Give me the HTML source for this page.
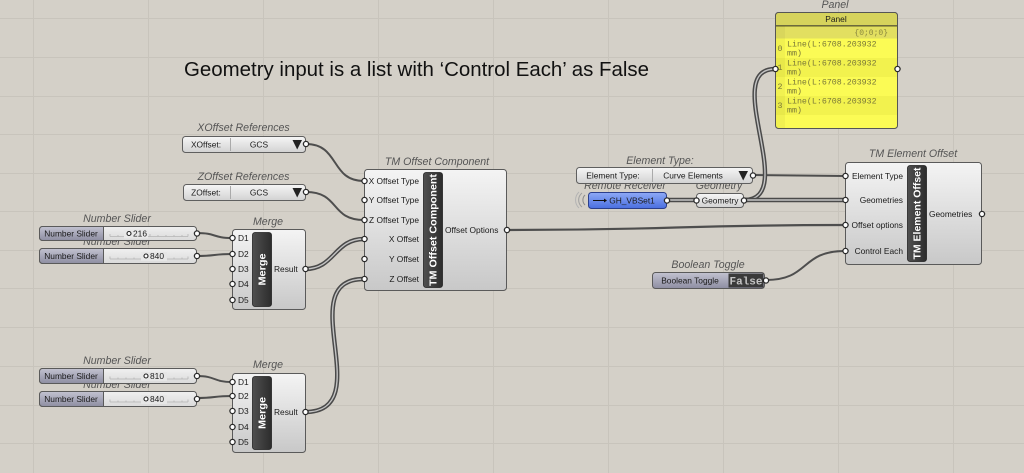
<!DOCTYPE html>
<html>
<head>
<meta charset="utf-8">
<style>
html,body{margin:0;padding:0;background:#d4d0c8;}
svg{display:block;}
text{font-family:"Liberation Sans",sans-serif;}
.lbl{font-style:italic;font-size:10.6px;fill:#555;text-anchor:middle;}
.t{font-size:8.4px;fill:#1a1a1a;}
.tm{text-anchor:middle;}
.te{text-anchor:end;}
.strip{font-weight:bold;font-size:10.5px;fill:#fff;text-anchor:middle;}
.mono,.mono text{font-family:"Liberation Mono",monospace;}
.w1{fill:none;stroke:#4e4e4e;stroke-width:2;}
.w2o{fill:none;stroke:#4a4a4a;stroke-width:4.4;}
.w2i{fill:none;stroke:#c4c4c4;stroke-width:1.4;}
.port{fill:#fff;stroke:#2a2a2a;stroke-width:1.3;}
.box{fill:url(#gBox);stroke:#5a5a5a;stroke-width:1;}
.vl{fill:url(#gList);stroke:#5f5f5f;stroke-width:1;}
.stp{fill:url(#gStrip);stroke:#222;stroke-width:0.8;}
.grid{stroke:#c8c4bc;stroke-width:1;}
</style>
</head>
<body>
<svg width="1024" height="473" viewBox="0 0 1024 473" xmlns="http://www.w3.org/2000/svg">
<defs>
<linearGradient id="gBox" x1="0" y1="0" x2="0" y2="1">
<stop offset="0" stop-color="#f4f4f4"/><stop offset="1" stop-color="#c8c8c8"/>
</linearGradient>
<linearGradient id="gList" x1="0" y1="0" x2="0" y2="1">
<stop offset="0" stop-color="#f6f6f6"/><stop offset="1" stop-color="#d2d2d2"/>
</linearGradient>
<linearGradient id="gStrip" x1="0" y1="0" x2="1" y2="0">
<stop offset="0" stop-color="#505050"/><stop offset="1" stop-color="#2c2c2c"/>
</linearGradient>
<linearGradient id="gSl" x1="0" y1="0" x2="0" y2="1">
<stop offset="0" stop-color="#c2c2d0"/><stop offset="1" stop-color="#8e8ea2"/>
</linearGradient>
<linearGradient id="gTrack" x1="0" y1="0" x2="0" y2="1">
<stop offset="0" stop-color="#f0f0f0"/><stop offset="1" stop-color="#dadada"/>
</linearGradient>
<linearGradient id="gBlue" x1="0" y1="0" x2="0" y2="1">
<stop offset="0" stop-color="#8eaaf6"/><stop offset="1" stop-color="#4a6ee0"/>
</linearGradient>
</defs>

<!-- grid -->
<g class="grid">
<line x1="33.5" y1="0" x2="33.5" y2="473"/>
<line x1="148.5" y1="0" x2="148.5" y2="473"/>
<line x1="263.5" y1="0" x2="263.5" y2="473"/>
<line x1="378.5" y1="0" x2="378.5" y2="473"/>
<line x1="493.5" y1="0" x2="493.5" y2="473"/>
<line x1="608.5" y1="0" x2="608.5" y2="473"/>
<line x1="723.5" y1="0" x2="723.5" y2="473"/>
<line x1="838.5" y1="0" x2="838.5" y2="473"/>
<line x1="953.5" y1="0" x2="953.5" y2="473"/>
<line x1="0" y1="18.5" x2="1024" y2="18.5"/>
<line x1="0" y1="57.5" x2="1024" y2="57.5"/>
<line x1="0" y1="96.5" x2="1024" y2="96.5"/>
<line x1="0" y1="134.5" x2="1024" y2="134.5"/>
<line x1="0" y1="173.5" x2="1024" y2="173.5"/>
<line x1="0" y1="211.5" x2="1024" y2="211.5"/>
<line x1="0" y1="250.5" x2="1024" y2="250.5"/>
<line x1="0" y1="288.5" x2="1024" y2="288.5"/>
<line x1="0" y1="327.5" x2="1024" y2="327.5"/>
<line x1="0" y1="366.5" x2="1024" y2="366.5"/>
<line x1="0" y1="405.5" x2="1024" y2="405.5"/>
<line x1="0" y1="443.5" x2="1024" y2="443.5"/>
</g>

<!-- title -->
<text x="184" y="76" font-size="20.4" fill="#111" textLength="465" lengthAdjust="spacingAndGlyphs">Geometry input is a list with ‘Control Each’ as False</text>

<!-- single wires -->
<path class="w1" d="M306,144 C340,144 330,181 364,181"/>
<path class="w1" d="M306,192 C340,192 330,220 364,220"/>
<path class="w1" d="M197,233 C216,233 213,238 232,238"/>
<path class="w1" d="M197,256 C216,256 213,254 232,254"/>
<path class="w1" d="M197,376 C216,376 213,382 232,382"/>
<path class="w1" d="M197,398 C216,398 213,396 232,396"/>
<path class="w1" d="M507,230 C676,230 676,225 845,225" style="stroke-width:2.2"/>
<path class="w1" d="M753,175 L845,176"/>
<path class="w1" d="M766,280 C810,280 800,251 845,251"/>

<!-- double (list) wires -->
<path class="w2o" d="M305,269 C335,269 334,239 364,239"/>
<path class="w2i" d="M305,269 C335,269 334,239 364,239"/>
<path class="w2o" d="M305,412 C380,412 290,279 364,279"/>
<path class="w2i" d="M305,412 C380,412 290,279 364,279"/>
<path class="w2o" d="M667,200 L696,200"/>
<path class="w2i" d="M667,200 L696,200"/>
<path class="w2o" d="M744,200 C800,200 720,69 775,69"/>
<path class="w2i" d="M744,200 C800,200 720,69 775,69"/>
<path class="w2o" d="M744,200 L845,200"/>
<path class="w2i" d="M744,200 L845,200"/>

<!-- labels (drawn under boxes) -->
<text class="lbl" x="243.5" y="131">XOffset References</text>
<text class="lbl" x="243.5" y="180">ZOffset References</text>
<text class="lbl" x="437" y="165">TM Offset Component</text>
<text class="lbl" x="117" y="222">Number Slider</text>
<text class="lbl" x="117" y="245">Number Slider</text>
<text class="lbl" x="268" y="225">Merge</text>
<text class="lbl" x="117" y="364">Number Slider</text>
<text class="lbl" x="117" y="388">Number Slider</text>
<text class="lbl" x="268" y="368">Merge</text>
<text class="lbl" x="835" y="8">Panel</text>
<text class="lbl" x="660" y="164">Element Type:</text>
<text class="lbl" x="625" y="189">Remote Receiver</text>
<text class="lbl" x="719" y="189">Geometry</text>
<text class="lbl" x="913" y="157">TM Element Offset</text>
<text class="lbl" x="708" y="268">Boolean Toggle</text>

<!-- XOffset value list -->
<rect class="vl" x="182.5" y="136.5" width="123" height="16" rx="3"/>
<line x1="230.5" y1="138" x2="230.5" y2="151" stroke="#aaa"/>
<text class="t tm" x="206" y="147.5">XOffset:</text>
<text class="t tm" x="259" y="147.5">GCS</text>
<polygon points="292.5,140 302,140 297.2,149.5" fill="#222"/>

<!-- ZOffset value list -->
<rect class="vl" x="183.5" y="184.5" width="122" height="16" rx="3"/>
<line x1="230.5" y1="186" x2="230.5" y2="199" stroke="#aaa"/>
<text class="t tm" x="206" y="195.5">ZOffset:</text>
<text class="t tm" x="259" y="195.5">GCS</text>
<polygon points="292.5,188 302,188 297.2,197.5" fill="#222"/>

<!-- TM Offset Component -->
<rect class="box" x="364.5" y="169.5" width="142" height="121" rx="3"/>
<rect class="stp" x="423.5" y="172.5" width="19" height="115" rx="2.5"/>
<text class="strip" transform="translate(436.5,230) rotate(-90)" textLength="112" lengthAdjust="spacingAndGlyphs">TM Offset Component</text>
<text class="t te" x="419" y="184">X Offset Type</text>
<text class="t te" x="419" y="203">Y Offset Type</text>
<text class="t te" x="419" y="223">Z Offset Type</text>
<text class="t te" x="419" y="242">X Offset</text>
<text class="t te" x="419" y="262">Y Offset</text>
<text class="t te" x="419" y="282">Z Offset</text>
<text class="t" x="445" y="233">Offset Options</text>

<!-- Sliders group 1 -->
<g>
<rect x="39.5" y="226.5" width="157" height="14" rx="3" fill="url(#gTrack)" stroke="#5a5a5a"/>
<path d="M42.5,226.5 H103.5 V240.5 H42.5 A3,3 0 0 1 39.5,237.5 V229.5 A3,3 0 0 1 42.5,226.5 Z" fill="url(#gSl)" stroke="#5a5a5a"/>
<text class="t tm" x="71" y="236.5">Number Slider</text>
<path d="M110,236.5 H188 M110,234 V236.5 M118,235 V236.5 M126,235 V236.5 M134,235 V236.5 M142,235 V236.5 M150,234 V236.5 M158,235 V236.5 M166,235 V236.5 M174,235 V236.5 M182,235 V236.5 M188,234 V236.5" stroke="#b4b4b4" stroke-width="0.8" fill="none"/>
<rect x="124" y="229.5" width="24" height="9" fill="#e8e8e8"/>
<circle cx="129" cy="233.5" r="2" fill="#fff" stroke="#222" stroke-width="1.1"/>
<text class="t" x="133" y="236.5">216</text>
</g>
<g>
<rect x="39.5" y="248.5" width="157" height="15" rx="3" fill="url(#gTrack)" stroke="#5a5a5a"/>
<path d="M42.5,248.5 H103.5 V263.5 H42.5 A3,3 0 0 1 39.5,260.5 V251.5 A3,3 0 0 1 42.5,248.5 Z" fill="url(#gSl)" stroke="#5a5a5a"/>
<text class="t tm" x="71" y="259">Number Slider</text>
<path d="M110,259 H188 M110,256.5 V259 M118,257.5 V259 M126,257.5 V259 M134,257.5 V259 M142,257.5 V259 M150,256.5 V259 M158,257.5 V259 M166,257.5 V259 M174,257.5 V259 M182,257.5 V259 M188,256.5 V259" stroke="#b4b4b4" stroke-width="0.8" fill="none"/>
<rect x="141" y="252" width="26" height="9" fill="#e6e6e6"/>
<circle cx="146" cy="256" r="2" fill="#fff" stroke="#222" stroke-width="1.1"/>
<text class="t" x="150" y="259">840</text>
</g>

<!-- Merge 1 -->
<rect class="box" x="232.5" y="229.5" width="73" height="80" rx="3"/>
<rect class="stp" x="252.5" y="232.5" width="19" height="74" rx="2.5"/>
<text class="strip" transform="translate(265.5,269.5) rotate(-90)" textLength="32" lengthAdjust="spacingAndGlyphs">Merge</text>
<text class="t" x="238" y="241">D1</text>
<text class="t" x="238" y="257">D2</text>
<text class="t" x="238" y="272">D3</text>
<text class="t" x="238" y="287">D4</text>
<text class="t" x="238" y="303">D5</text>
<text class="t" x="274" y="272">Result</text>

<!-- Sliders group 2 -->
<g>
<rect x="39.5" y="368.5" width="157" height="15" rx="3" fill="url(#gTrack)" stroke="#5a5a5a"/>
<path d="M42.5,368.5 H103.5 V383.5 H42.5 A3,3 0 0 1 39.5,380.5 V371.5 A3,3 0 0 1 42.5,368.5 Z" fill="url(#gSl)" stroke="#5a5a5a"/>
<text class="t tm" x="71" y="379">Number Slider</text>
<path d="M110,379 H188 M110,376.5 V379 M118,377.5 V379 M126,377.5 V379 M134,377.5 V379 M142,377.5 V379 M150,376.5 V379 M158,377.5 V379 M166,377.5 V379 M174,377.5 V379 M182,377.5 V379 M188,376.5 V379" stroke="#b4b4b4" stroke-width="0.8" fill="none"/>
<rect x="141" y="372" width="26" height="9" fill="#e6e6e6"/>
<circle cx="146" cy="376" r="2" fill="#fff" stroke="#222" stroke-width="1.1"/>
<text class="t" x="150" y="379">810</text>
</g>
<g>
<rect x="39.5" y="391.5" width="157" height="15" rx="3" fill="url(#gTrack)" stroke="#5a5a5a"/>
<path d="M42.5,391.5 H103.5 V406.5 H42.5 A3,3 0 0 1 39.5,403.5 V394.5 A3,3 0 0 1 42.5,391.5 Z" fill="url(#gSl)" stroke="#5a5a5a"/>
<text class="t tm" x="71" y="402">Number Slider</text>
<path d="M110,402 H188 M110,399.5 V402 M118,400.5 V402 M126,400.5 V402 M134,400.5 V402 M142,400.5 V402 M150,399.5 V402 M158,400.5 V402 M166,400.5 V402 M174,400.5 V402 M182,400.5 V402 M188,399.5 V402" stroke="#b4b4b4" stroke-width="0.8" fill="none"/>
<rect x="141" y="395" width="26" height="9" fill="#e6e6e6"/>
<circle cx="146" cy="399" r="2" fill="#fff" stroke="#222" stroke-width="1.1"/>
<text class="t" x="150" y="402">840</text>
</g>

<!-- Merge 2 -->
<rect class="box" x="232.5" y="373.5" width="73" height="79" rx="3"/>
<rect class="stp" x="252.5" y="376.5" width="19" height="73" rx="2.5"/>
<text class="strip" transform="translate(265.5,413) rotate(-90)" textLength="32" lengthAdjust="spacingAndGlyphs">Merge</text>
<text class="t" x="238" y="385">D1</text>
<text class="t" x="238" y="399">D2</text>
<text class="t" x="238" y="414">D3</text>
<text class="t" x="238" y="430">D4</text>
<text class="t" x="238" y="445">D5</text>
<text class="t" x="274" y="415">Result</text>

<!-- Panel -->
<rect x="775.5" y="12.5" width="122" height="116" rx="3" fill="#fbfb55" stroke="#555"/>
<path d="M778.5,12.5 H894.5 A3,3 0 0 1 897.5,15.5 V25.5 H775.5 V15.5 A3,3 0 0 1 778.5,12.5 Z" fill="#d6d35c" stroke="#555"/>
<text class="t tm" x="836" y="22">Panel</text>
<rect x="776" y="26" width="121" height="12.5" fill="#e2df60"/>
<line x1="776" y1="26" x2="897" y2="26" stroke="#7a7830" stroke-width="1.2"/>
<text class="mono" x="888" y="35" font-size="8" fill="#8a8840" text-anchor="end">{0;0;0}</text>
<rect x="776" y="39" width="121" height="19" fill="#fbfb55"/>
<rect x="776" y="58" width="121" height="19" fill="#f2f24e"/>
<rect x="776" y="77" width="121" height="19" fill="#fbfb55"/>
<rect x="776" y="96" width="121" height="19" fill="#f2f24e"/>
<rect x="776" y="26" width="9" height="102" fill="#000" opacity="0.04"/>
<g class="mono" font-size="8.3" fill="#7a7838">
<text x="780" y="51" text-anchor="middle">0</text>
<text x="787" y="46.5">Line(L:6708.203932</text>
<text x="787" y="55.5">mm)</text>
<text x="780" y="70" text-anchor="middle">1</text>
<text x="787" y="65.5">Line(L:6708.203932</text>
<text x="787" y="74.5">mm)</text>
<text x="780" y="89" text-anchor="middle">2</text>
<text x="787" y="84.5">Line(L:6708.203932</text>
<text x="787" y="93.5">mm)</text>
<text x="780" y="108" text-anchor="middle">3</text>
<text x="787" y="103.5">Line(L:6708.203932</text>
<text x="787" y="112.5">mm)</text>
</g>

<!-- Element Type value list -->
<rect class="vl" x="576.5" y="167.5" width="176" height="16" rx="3"/>
<line x1="652.5" y1="169" x2="652.5" y2="182" stroke="#aaa"/>
<text class="t tm" x="613" y="178.5">Element Type:</text>
<text class="t tm" x="693" y="178.5">Curve Elements</text>
<polygon points="738.5,171 748,171 743.2,180.5" fill="#222"/>

<!-- Remote receiver -->
<path d="M585,195 A7,7 0 0 0 585,205" fill="none" stroke="#8a8a8a" stroke-width="1"/>
<path d="M582,193 A9,9 0 0 0 582,207" fill="none" stroke="#a0a0a0" stroke-width="1"/>
<path d="M579,192 A11,11 0 0 0 579,208" fill="none" stroke="#b4b4b4" stroke-width="1"/>
<rect x="588.5" y="192.5" width="78" height="16" rx="3" fill="url(#gBlue)" stroke="#2b3f8c"/>
<line x1="593" y1="200.5" x2="604" y2="200.5" stroke="#111" stroke-width="1"/>
<polygon points="604,198.5 607,200.5 604,202.5" fill="#111"/>
<text class="t tm" x="632" y="203.5">GH_VBSet1</text>

<!-- Geometry param -->
<rect class="vl" x="696.5" y="193.5" width="47" height="14" rx="3"/>
<text class="t tm" x="720" y="203.5">Geometry</text>

<!-- TM Element Offset -->
<rect class="box" x="845.5" y="162.5" width="136" height="102" rx="3"/>
<rect class="stp" x="907.5" y="165.5" width="19" height="96" rx="2.5"/>
<text class="strip" transform="translate(920.5,213.5) rotate(-90)" textLength="92" lengthAdjust="spacingAndGlyphs">TM Element Offset</text>
<text class="t te" x="903" y="179">Element Type</text>
<text class="t te" x="903" y="203">Geometries</text>
<text class="t te" x="903" y="228">Offset options</text>
<text class="t te" x="903" y="254">Control Each</text>
<text class="t" x="929" y="217">Geometries</text>

<!-- Boolean toggle -->
<rect x="652.5" y="272.5" width="112" height="16" rx="3" fill="url(#gSl)" stroke="#5a5a5a"/>
<text class="t tm" x="690" y="283.5" fill="#1a1a2a">Boolean Toggle</text>
<rect x="728.5" y="273.5" width="35" height="14" fill="#3a3a3a"/>
<text class="mono" x="746" y="284.5" font-size="11" font-weight="bold" fill="#c4c4c4" text-anchor="middle">False</text>

<!-- ports -->
<g class="port">
<circle cx="306" cy="144" r="2.6"/>
<circle cx="306" cy="192" r="2.6"/>
<circle cx="364.5" cy="181" r="2.6"/>
<circle cx="364.5" cy="200" r="2.6"/>
<circle cx="364.5" cy="220" r="2.6"/>
<circle cx="364.5" cy="239" r="2.6"/>
<circle cx="364.5" cy="259" r="2.6"/>
<circle cx="364.5" cy="279" r="2.6"/>
<circle cx="507" cy="230" r="2.6"/>
<circle cx="197" cy="233.5" r="2.6"/>
<circle cx="197" cy="256" r="2.6"/>
<circle cx="197" cy="376" r="2.6"/>
<circle cx="197" cy="399" r="2.6"/>
<circle cx="232.5" cy="238" r="2.6"/>
<circle cx="232.5" cy="254" r="2.6"/>
<circle cx="232.5" cy="269" r="2.6"/>
<circle cx="232.5" cy="284" r="2.6"/>
<circle cx="232.5" cy="300" r="2.6"/>
<circle cx="305.5" cy="269" r="2.6"/>
<circle cx="232.5" cy="382" r="2.6"/>
<circle cx="232.5" cy="396" r="2.6"/>
<circle cx="232.5" cy="411" r="2.6"/>
<circle cx="232.5" cy="427" r="2.6"/>
<circle cx="232.5" cy="442" r="2.6"/>
<circle cx="305.5" cy="412" r="2.6"/>
<circle cx="775.5" cy="69" r="2.6"/>
<circle cx="897.5" cy="69" r="2.6"/>
<circle cx="753" cy="175.5" r="2.6"/>
<circle cx="667" cy="200.5" r="2.6"/>
<circle cx="696.5" cy="200.5" r="2.6"/>
<circle cx="744" cy="200.5" r="2.6"/>
<circle cx="845.5" cy="176" r="2.6"/>
<circle cx="845.5" cy="200" r="2.6"/>
<circle cx="845.5" cy="225" r="2.6"/>
<circle cx="845.5" cy="251" r="2.6"/>
<circle cx="982" cy="214" r="2.6"/>
<circle cx="766" cy="280.5" r="2.6"/>
</g>
</svg>
</body>
</html>
